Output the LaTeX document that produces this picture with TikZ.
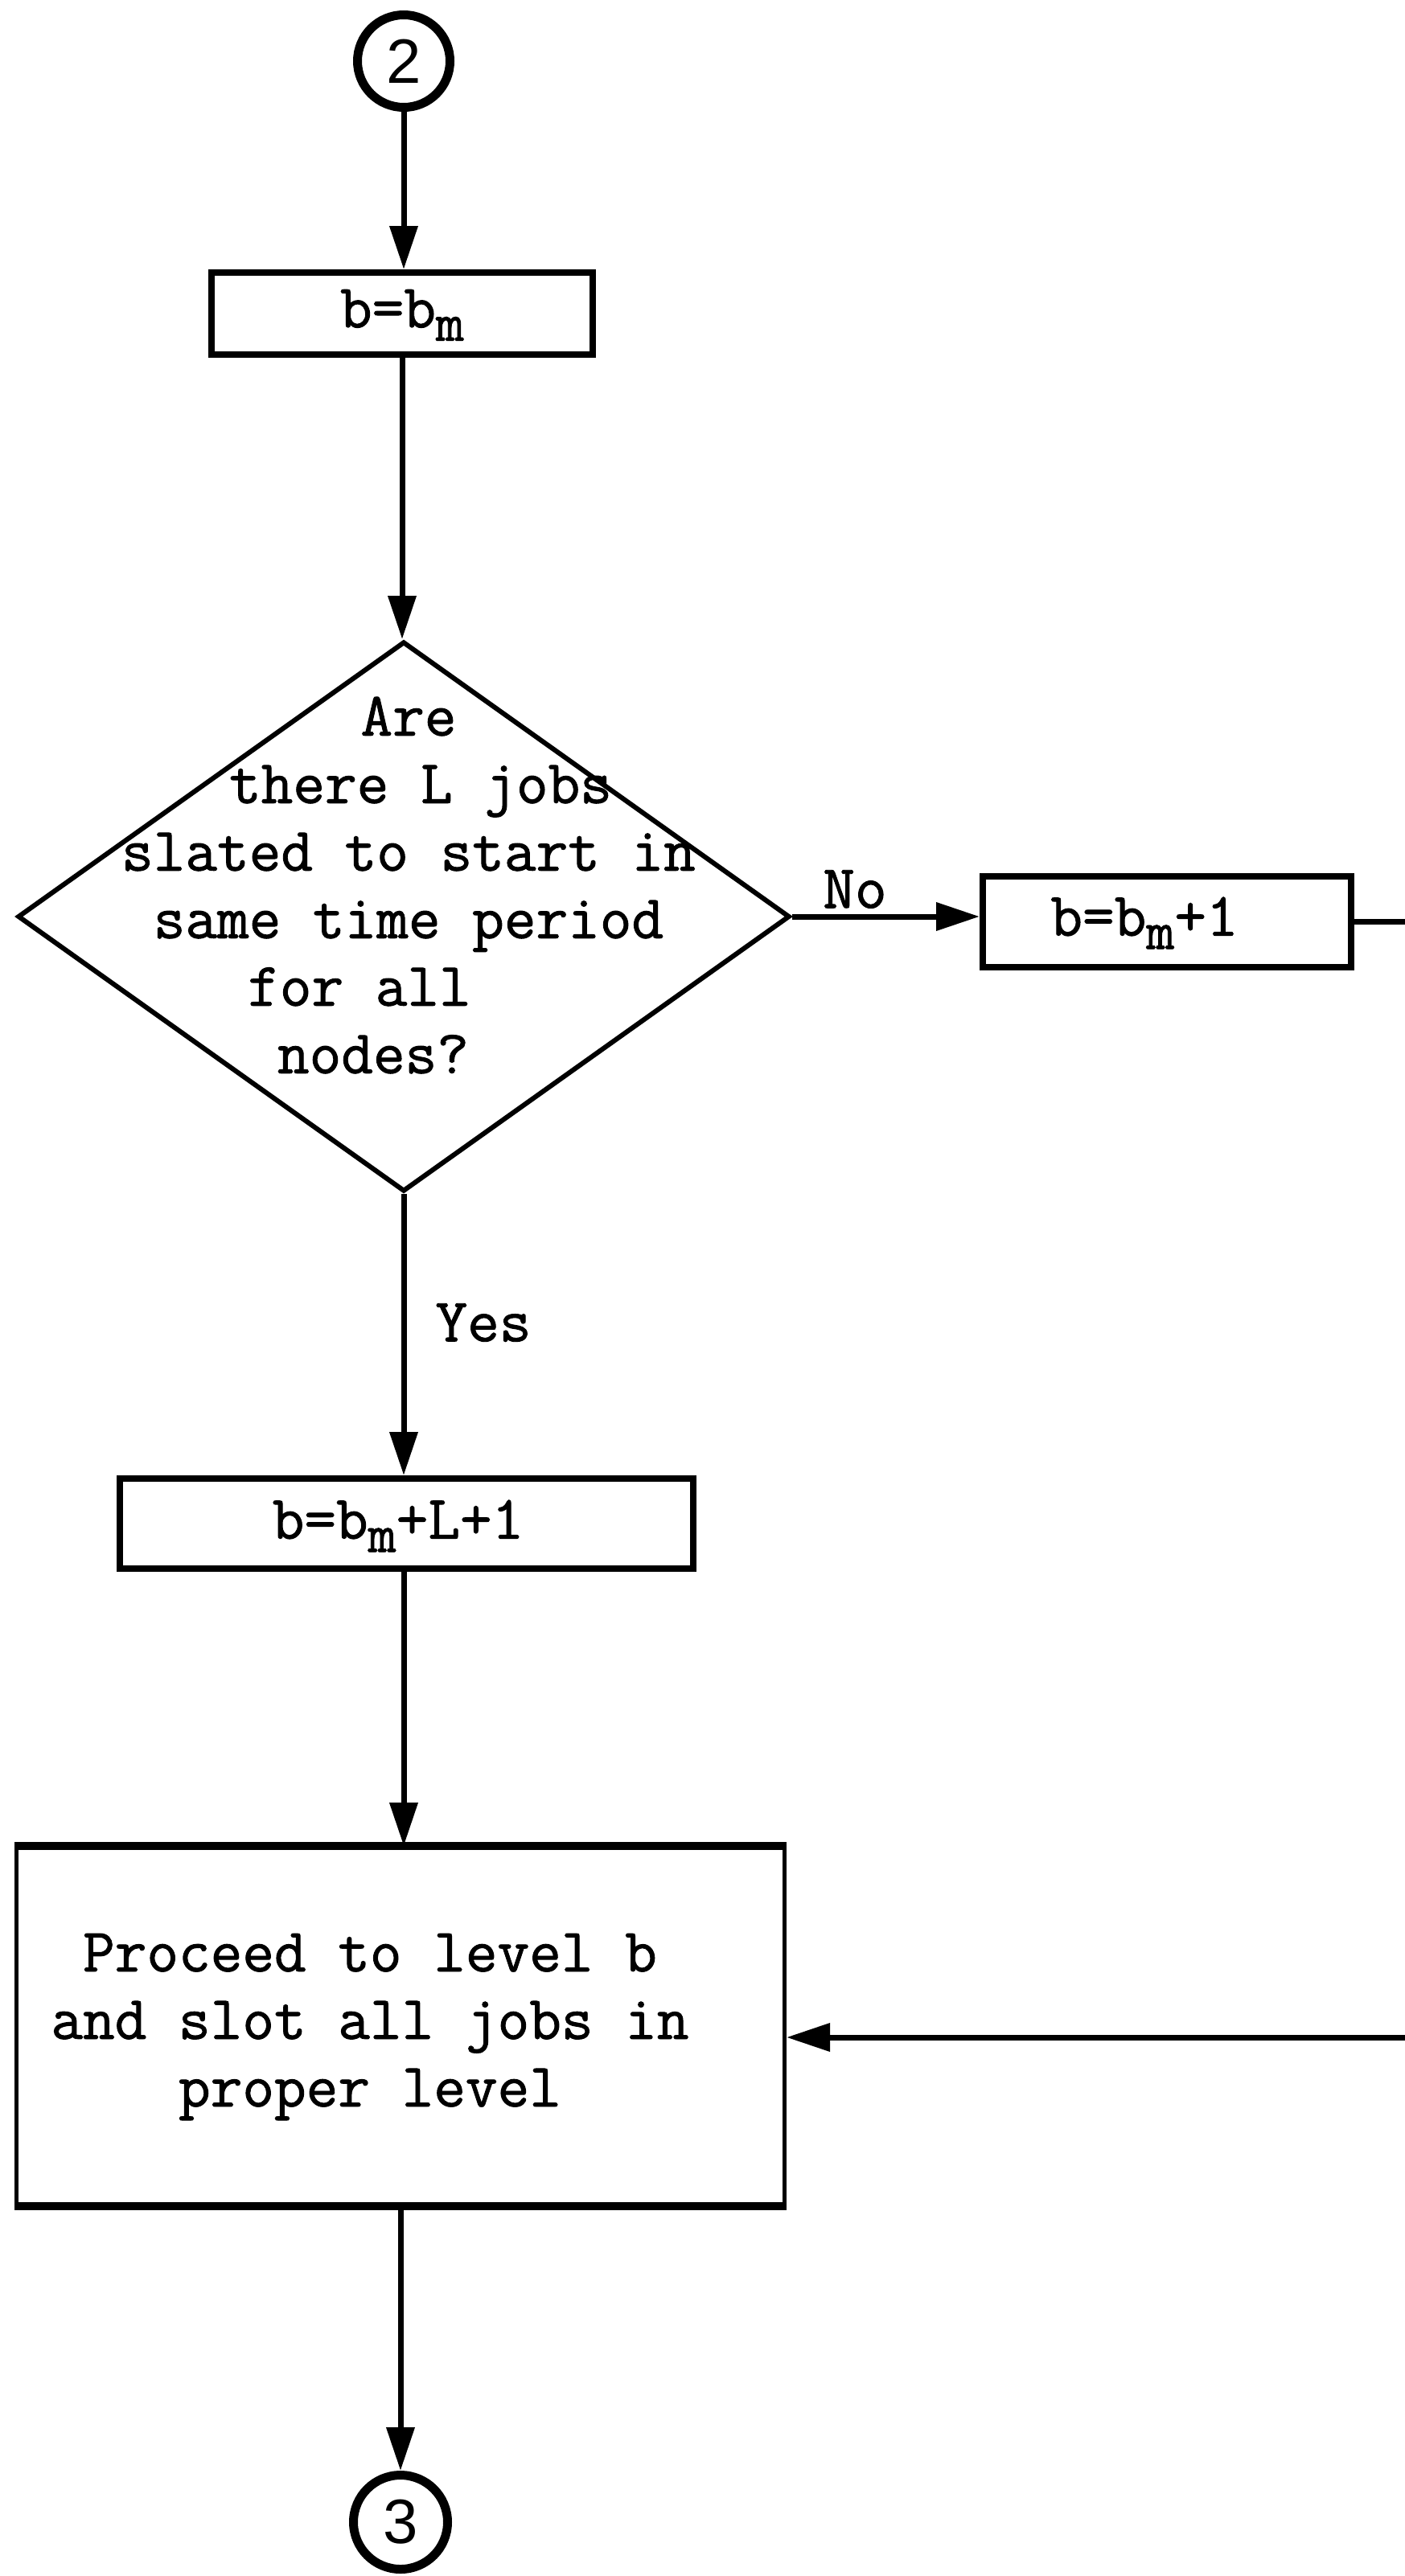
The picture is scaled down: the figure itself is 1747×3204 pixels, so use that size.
\documentclass[tikz,border=0pt]{standalone}
\usepackage{fontspec}
\newfontfamily\typew{Latin Modern Mono}[FakeBold=1.2]
\newfontfamily\circfont{Liberation Sans}
\usetikzlibrary{shapes.geometric,arrows.meta}
\newcommand{\subm}{\raisebox{-0.5ex}{\fontsize{68}{68}\selectfont m}}
\begin{document}
\begin{tikzpicture}[x=1pt,y=-1pt,
  conn/.style={line width=7pt},
  arr/.style={conn,-{Triangle[length=54pt,width=34pt]}},
  procbox/.style={draw,line width=8pt,rectangle,inner sep=0pt},
  connector/.style={draw,circle,line width=11pt,inner sep=0pt,font=\circfont\fontsize{78}{78}\selectfont},
  txt/.style={font=\typew\fontsize{77}{84}\selectfont,align=center,inner sep=0pt}
]
\useasboundingbox[fill=white] (0,0) rectangle (1747,3204);
% nodes
\node[connector,minimum size=115pt] (c2) at (502,76) {2};
\node[procbox,minimum width=474pt,minimum height=102pt] (b1) at (500,390) {};
\node[txt] (t1) at (500,392) {b=b\subm};
\node[diamond,draw,line width=6pt,minimum width=960pt,minimum height=684pt,inner sep=0pt] (dec) at (502,1140) {};
\node[txt] (tdec) at (508,1101) {Are\\\hspace*{30pt}there L jobs\\slated to start in\\same time period\\for all\rule{122pt}{0pt}\\nodes?\rule{88pt}{0pt}};
\node[procbox,minimum width=458pt,minimum height=113pt] (b2) at (1451,1146) {};
\node[txt] (t2) at (1423,1148) {b=b\subm+1};
\node[procbox,minimum width=713pt,minimum height=112pt] (b3) at (505,1895) {};
\node[txt] (t3) at (495,1898) {b=b\subm+L+1};
\node[procbox,line width=5pt,minimum width=955pt,minimum height=443pt] (bb) at (498,2520) {};
\draw[line width=10pt] (bb.north west) -- (bb.north east);
\draw[line width=10pt] (bb.south west) -- (bb.south east);
\node[txt] (tbb) at (460,2521) {Proceed to level b\\and slot all jobs in\\proper level};
\node[connector,minimum size=117pt] (c3) at (498,3137) {3};
% labels
\node[txt] (lno) at (1063,1106) {No};
\node[txt] (lyes) at (601,1645) {Yes};
% free ends at the page edge
\coordinate (e1) at (1747,1146);
\coordinate (e2) at (1747,2534);
% connectors
\draw[arr] (c2.south) -- (c2.south |- b1.north);
\draw[arr] (b1.south) -- (b1.south |- dec.north);
\draw[arr] (dec.east) -- (dec.east -| b2.west);
\draw[conn] (b2.east) -- (e1);
\draw[arr] (dec.south) -- (dec.south |- b3.north);
\draw[arr] (dec.south |- b3.south) -- (dec.south |- bb.north);
\draw[arr] (e2) -- (e2 -| bb.east);
\draw[arr] (bb.south) -- (c3.north);
\end{tikzpicture}
\end{document}
